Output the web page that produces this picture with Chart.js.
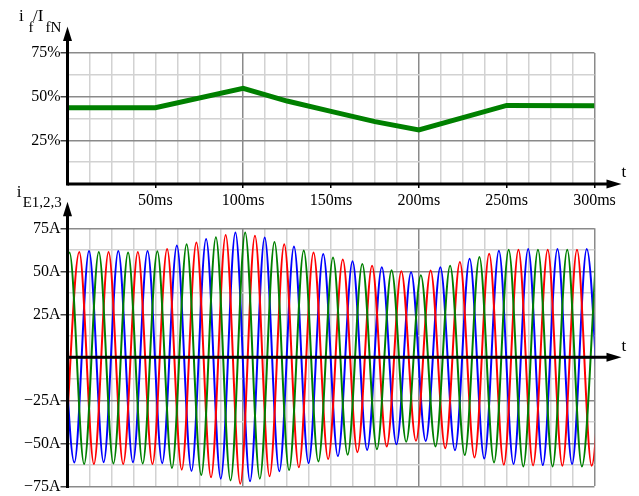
<!DOCTYPE html>
<html>
<head>
<meta charset="utf-8">
<script src="https://cdn.jsdelivr.net/npm/chart.js@4.4.0/dist/chart.umd.min.js"></script>
<style>
  html, body { margin: 0; padding: 0; background: #fff; }
  #wrap { position: relative; width: 639px; height: 496px; }
  #wrap canvas { position: absolute; left: 0; }
  #fieldChart { top: 0; }
  #statorChart { top: 185px; }
</style>
</head>
<body>
<div id="wrap">
  <canvas id="fieldChart" width="639" height="215"></canvas>
  <canvas id="statorChart" width="639" height="311"></canvas>
</div>
<script>
// field current i_f / I_fN in percent
const fieldTimesMs = [0, 50, 100, 125, 150, 175, 200, 250, 300];
const fieldPercent = [43.7, 43.7, 54.8, 47.5, 41.6, 35.7, 30.9, 45.0, 44.8];

// stator currents: successive peak / trough values (A), one every half period
const mainsHz = 60;
const halfPeriodMs = 1000 / mainsHz / 2;

const e1FirstMs = -7.19;
const e1Extrema = [-61.7, 61.0, -62.0, 61.2, -61.7, 61.0, -61.7, 61.6, -64.3, 65.8,
  -68.4, 69.8, -71.6, 72.6, -70.5, 67.1, -65.5, 62.1, -60.5, 58.1,
  -56.6, 54.3, -53.4, 50.6, -49.0, 47.7, -51.8, 53.3, -56.8, 58.3,
  -61.1, 62.5, -63.4, 62.5, -63.4, 62.5, -63.4, 62.5];

const e2FirstMs = -1.63;
const e2Extrema = [-62.0, 61.2, -62.0, 61.2, -62.0, 61.2, -62.0, 62.9, -65.3, 66.7,
  -69.7, 71.1, -73.5, 70.7, -69.1, 65.8, -63.9, 61.0, -59.1, 56.8,
  -55.1, 53.3, -51.8, 50.1, -48.5, 50.5, -52.8, 55.4, -58.2, 60.2,
  -62.4, 62.5, -62.8, 62.5, -63.0, 62.5, -63.0, 62.5];

const e3FirstMs = -4.42;
const e3Extrema = [61.8, -61.1, 61.8, -61.0, 61.8, -61.0, 61.8, -61.5, 65.0, -66.0,
  68.8, -70.5, 72.5, -72.0, 69.6, -66.2, 64.4, -61.5, 60.0, -57.4,
  55.8, -53.8, 52.3, -50.5, 49.5, -48.6, 52.3, -54.0, 57.3, -58.8,
  61.9, -62.0, 62.9, -62.6, 62.9, -62.0, 62.9, -62.5];

// labelled ticks
const percentTicks = [25, 50, 75];
const percentTickLabels = ['25%', '50%', '75%'];
const ampTicks = [-75, -50, -25, 25, 50, 75];
const ampTickLabels = ['\u221275A', '\u221250A', '\u221225A', '25A', '50A', '75A'];
const timeTicks = [50, 100, 150, 200, 250, 300];
const timeTickLabels = ['50ms', '100ms', '150ms', '200ms', '250ms', '300ms'];

const MAJOR = '#8a8a8a';
const MINOR = '#d2d2d2';
const FONT = '"Liberation Serif", "Times New Roman", serif';

function toPoints(firstMs, extrema) {
  return extrema.map((amp, i) => ({ x: firstMs + i * halfPeriodMs, y: amp }));
}

function labelFrom(values, labels) {
  return v => {
    const i = values.indexOf(v);
    return i < 0 ? '' : labels[i];
  };
}

function gridFor(step) {
  return {
    color: ctx => (ctx.tick && ctx.tick.value % step === 0) ? MAJOR : MINOR,
    lineWidth: 1.5
  };
}

function axesPlugin(texts) {
  return {
    id: 'axesPlugin',
    afterDatasetsDraw(chart) {
      const { ctx, chartArea, scales } = chart;
      const x0 = scales.x.getPixelForValue(0);
      const y0 = scales.y.getPixelForValue(0);
      ctx.save();
      ctx.strokeStyle = '#000';
      ctx.fillStyle = '#000';
      ctx.lineWidth = 3;
      // time axis
      ctx.beginPath();
      ctx.moveTo(x0, y0);
      ctx.lineTo(chartArea.right + 13, y0);
      ctx.stroke();
      ctx.beginPath();
      ctx.moveTo(chartArea.right + 27, y0);
      ctx.lineTo(chartArea.right + 12, y0 - 4.5);
      ctx.lineTo(chartArea.right + 12, y0 + 4.5);
      ctx.closePath();
      ctx.fill();
      // value axis
      ctx.beginPath();
      ctx.moveTo(x0, chartArea.bottom + 1.5);
      ctx.lineTo(x0, chartArea.top - 13);
      ctx.stroke();
      ctx.beginPath();
      ctx.moveTo(x0, chartArea.top - 26.5);
      ctx.lineTo(x0 - 4.5, chartArea.top - 12);
      ctx.lineTo(x0 + 4.5, chartArea.top - 12);
      ctx.closePath();
      ctx.fill();
      // axis names
      ctx.textBaseline = 'alphabetic';
      ctx.textAlign = 'left';
      texts.forEach(p => {
        ctx.font = p.size + 'px ' + FONT;
        ctx.fillText(p.text, p.x, p.y);
      });
      ctx.restore();
    }
  };
}

new Chart(document.getElementById('fieldChart'), {
  type: 'line',
  data: {
    datasets: [{
      label: 'if/IfN',
      data: fieldTimesMs.map((t, i) => ({ x: t, y: fieldPercent[i] })),
      borderColor: '#008000',
      borderWidth: 5,
      pointRadius: 0,
      tension: 0
    }]
  },
  options: {
    responsive: false,
    animation: false,
    layout: { padding: { left: 0, right: 44.5, top: 53, bottom: 0 } },
    plugins: { legend: { display: false }, tooltip: { enabled: false } },
    scales: {
      x: {
        type: 'linear', min: 0, max: 300,
        ticks: {
          stepSize: 12.5, autoSkip: false, maxRotation: 0, padding: 3,
          color: '#000', font: { family: FONT, size: 16 },
          callback: labelFrom(timeTicks, timeTickLabels)
        },
        grid: Object.assign(gridFor(100), {
          tickLength: 4,
          tickColor: ctx => timeTicks.includes(ctx.tick.value) ? '#000' : 'rgba(0,0,0,0)'
        }),
        border: { display: false },
        afterFit: s => { s.height = 31; }
      },
      y: {
        min: 0, max: 75,
        ticks: {
          stepSize: 12.5, autoSkip: false, padding: 0,
          color: '#000', font: { family: FONT, size: 16 },
          callback: labelFrom(percentTicks, percentTickLabels)
        },
        grid: Object.assign(gridFor(25), {
          tickLength: 7,
          tickColor: ctx => percentTicks.includes(ctx.tick.value) ? '#444' : 'rgba(0,0,0,0)'
        }),
        border: { display: false },
        afterFit: s => { s.width = 67.5; }
      }
    }
  },
  plugins: [axesPlugin([
    { text: 'i', x: 19, y: 20.5, size: 17 },
    { text: 'f', x: 28.5, y: 32, size: 15 },
    { text: '/I', x: 33, y: 20.5, size: 17 },
    { text: 'fN', x: 45.5, y: 32, size: 15 },
    { text: 't', x: 621.5, y: 176.5, size: 17 }
  ])]
});

const phaseStyle = { borderWidth: 2, pointRadius: 0, cubicInterpolationMode: 'monotone' };

new Chart(document.getElementById('statorChart'), {
  type: 'line',
  data: {
    datasets: [
      Object.assign({ label: 'iE1', data: toPoints(e1FirstMs, e1Extrema), borderColor: '#008000' }, phaseStyle),
      Object.assign({ label: 'iE2', data: toPoints(e2FirstMs, e2Extrema), borderColor: '#ff0000' }, phaseStyle),
      Object.assign({ label: 'iE3', data: toPoints(e3FirstMs, e3Extrema), borderColor: '#0000ff' }, phaseStyle)
    ]
  },
  options: {
    responsive: false,
    animation: false,
    layout: { padding: { left: 0, right: 44.5, top: 43.3, bottom: 0 } },
    plugins: { legend: { display: false }, tooltip: { enabled: false } },
    scales: {
      x: {
        type: 'linear', min: 0, max: 300,
        ticks: { stepSize: 12.5, autoSkip: false, display: false },
        grid: Object.assign(gridFor(100), { drawTicks: false }),
        border: { display: false },
        afterFit: s => { s.height = 6.7; }
      },
      y: {
        min: -75, max: 75,
        ticks: {
          stepSize: 12.5, autoSkip: false, padding: 0,
          color: '#000', font: { family: FONT, size: 16 },
          callback: labelFrom(ampTicks, ampTickLabels)
        },
        grid: Object.assign(gridFor(25), {
          tickLength: 7,
          tickColor: ctx => ampTicks.includes(ctx.tick.value) ? '#444' : 'rgba(0,0,0,0)'
        }),
        border: { display: false },
        afterFit: s => { s.width = 67.5; }
      }
    }
  },
  plugins: [axesPlugin([
    { text: 'i', x: 16.7, y: 11.7, size: 17 },
    { text: 'E1,2,3', x: 22.7, y: 21.7, size: 15 },
    { text: 't', x: 621.5, y: 165.7, size: 17 }
  ])]
});
</script>
</body>
</html>
